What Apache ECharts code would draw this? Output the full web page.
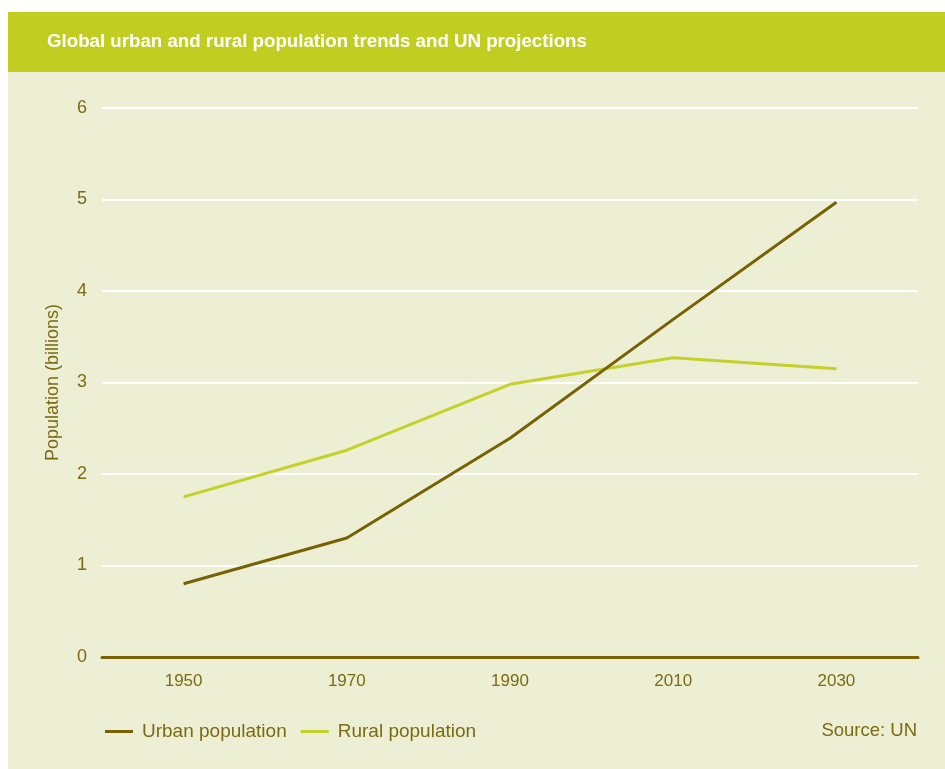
<!DOCTYPE html>
<html>
<head>
<meta charset="utf-8">
<script src="https://cdn.jsdelivr.net/npm/echarts@6/dist/echarts.min.js"></script>
<style>
html,body{margin:0;padding:0;background:#ffffff;}
#wrap{position:relative;width:945px;height:769px;background:#ffffff;}
#bg{position:absolute;left:8px;top:12px;width:937px;height:757px;background:#ecefd3;}
#chart{position:absolute;left:0;top:0;width:945px;height:769px;}
</style>
</head>
<body>
<div id="wrap"><div id="bg"></div><div id="chart"></div></div>
<script>
const titleText = 'Global urban and rural population trends and UN projections';
const years = ['1950', '1970', '1990', '2010', '2030'];
const urbanPopulation = [0.80, 1.30, 2.39, 3.69, 4.97];
const ruralPopulation = [1.75, 2.26, 2.98, 3.27, 3.15];
const yTicks = [0, 1, 2, 3, 4, 5, 6];
const sourceText = 'Source: UN';

const olive = '#786005';
const lime = '#c5d12b';
const textCol = '#7b6a12';
const font = '"Liberation Sans", Arial, Helvetica, sans-serif';

const chart = echarts.init(document.getElementById('chart'), null, {renderer: 'canvas'});
chart.setOption({
  backgroundColor: 'transparent',
  animation: false,
  textStyle: {fontFamily: font},
  graphic: [
    {type: 'rect', left: 8, top: 12, z: 0, shape: {width: 937, height: 60}, style: {fill: '#c2cd22'}},
    {type: 'text', left: 47, top: 32, z: 1, style: {text: titleText, fill: '#ffffff', font: 'bold 18.7px ' + font}},
    {type: 'text', right: 28, top: 721, z: 1, style: {text: sourceText, fill: textCol, font: '18.5px ' + font}}
  ],
  legend: {
    left: 100, top: 717,
    itemWidth: 28, itemHeight: 3, itemGap: 14,
    icon: 'rect',
    textStyle: {color: textCol, fontSize: 19, fontFamily: font, padding: [0, 0, 0, 4]},
    data: ['Urban population', 'Rural population']
  },
  grid: {left: 102, right: 27, top: 108, bottom: 112, containLabel: false},
  xAxis: {
    type: 'category',
    data: years,
    boundaryGap: true,
    axisLine: {lineStyle: {color: olive, width: 3}},
    axisTick: {show: false},
    axisLabel: {color: textCol, fontSize: 17, margin: 16, fontFamily: font},
    splitLine: {show: false}
  },
  yAxis: {
    type: 'value',
    min: yTicks[0], max: yTicks[yTicks.length - 1], interval: 1,
    name: 'Population (billions)',
    nameLocation: 'middle',
    nameGap: 40,
    nameTextStyle: {color: textCol, fontSize: 18, fontFamily: font},
    axisLine: {show: false},
    axisTick: {show: false},
    axisLabel: {color: textCol, fontSize: 18, margin: 15, fontFamily: font},
    splitLine: {lineStyle: {color: '#ffffff', width: 2}}
  },
  series: [
    {name: 'Urban population', type: 'line', data: urbanPopulation, symbol: 'none',
     lineStyle: {color: olive, width: 3}, itemStyle: {color: olive}, z: 3},
    {name: 'Rural population', type: 'line', data: ruralPopulation, symbol: 'none',
     lineStyle: {color: lime, width: 3}, itemStyle: {color: lime}, z: 2}
  ]
});
</script>
</body>
</html>
